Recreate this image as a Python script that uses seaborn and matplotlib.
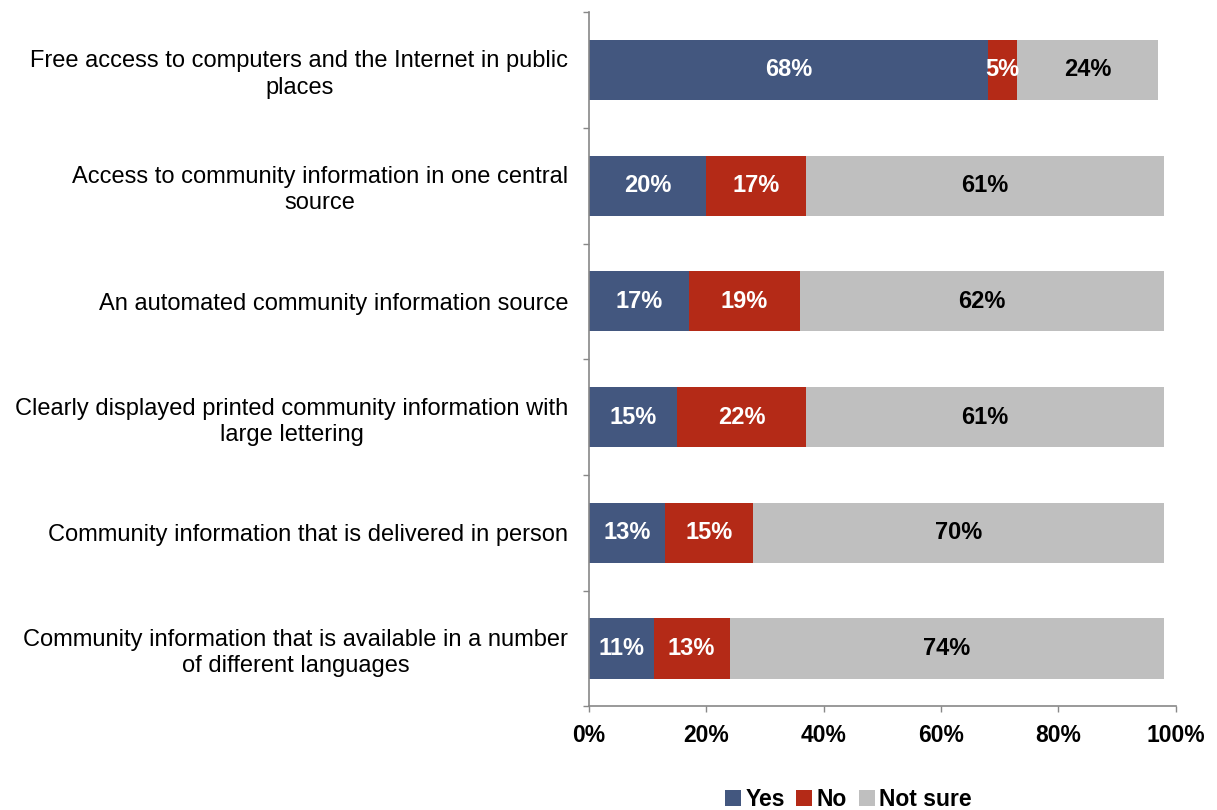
import numpy as np
import pandas as pd
import matplotlib
matplotlib.use("Agg")
import matplotlib.pyplot as plt
from matplotlib.patches import Patch
import seaborn as sns

# Survey items and response shares (percent)
categories = [
    "Free access to computers and the Internet in public\nplaces",
    "Access to community information in one central\nsource",
    "An automated community information source",
    "Clearly displayed printed community information with\nlarge lettering",
    "Community information that is delivered in person",
    "Community information that is available in a number\nof different languages",
]
yes_vals = [68, 20, 17, 15, 13, 11]
no_vals = [5, 17, 19, 22, 15, 13]
notsure_vals = [24, 61, 62, 61, 70, 74]
series_names = ["Yes", "No", "Not sure"]
x_ticks = [0, 20, 40, 60, 80, 100]

colors = {"Yes": "#43577f", "No": "#b42a17", "Not sure": "#bfbfbf"}
text_colors = {"Yes": "white", "No": "white", "Not sure": "black"}

sns.set_theme(style="white")
plt.rcParams["font.family"] = ["Liberation Sans", "DejaVu Sans"]
plt.rcParams["text.color"] = "black"
plt.rcParams["xtick.color"] = "black"
plt.rcParams["ytick.color"] = "black"

df = pd.DataFrame({"category": categories, "Yes": yes_vals, "No": no_vals, "Not sure": notsure_vals})
df["c_yes"] = df["Yes"]
df["c_no"] = df["Yes"] + df["No"]
df["c_ns"] = df["Yes"] + df["No"] + df["Not sure"]

fig = plt.figure(figsize=(12.17, 8.10), dpi=100)
ax = fig.add_axes([0.484, 0.128, 0.482, 0.857])

# Stacked bars: draw cumulative totals from widest to narrowest
bar_w = 0.52
for col, name in [("c_ns", "Not sure"), ("c_no", "No"), ("c_yes", "Yes")]:
    sns.barplot(data=df, x=col, y="category", orient="h", color=colors[name],
                width=bar_w, saturation=1, edgecolor="none", linewidth=0, ax=ax)

# Segment value labels
for i, row in df.iterrows():
    start = 0
    for name in series_names:
        v = row[name]
        ax.text(start + v / 2, i, f"{v}%", ha="center", va="center",
                color=text_colors[name], fontsize=17, fontweight="bold")
        start += v

ax.set_xlim(0, 100)
ax.set_ylim(len(categories) - 0.5, -0.5)
ax.set_xticks(x_ticks)
ax.set_xticklabels([f"{t}%" for t in x_ticks], fontsize=16.5, fontweight="bold")
ax.set_xlabel("")
ax.set_ylabel("")

ax.set_yticks(range(len(categories)))
ax.set_yticklabels(categories, fontsize=17, ha="right", multialignment="center",
                   linespacing=1.25)
ax.set_yticks(np.arange(-0.5, len(categories), 1.0), minor=True)
ax.tick_params(axis="y", which="major", length=0, pad=15)
ax.tick_params(axis="y", which="minor", length=4.5, width=1, color="#888888", direction="out", left=True)
ax.tick_params(axis="x", which="major", length=4.5, width=1, color="#888888", direction="out", bottom=True, pad=8)

for side in ["top", "right"]:
    ax.spines[side].set_visible(False)
for side in ["left", "bottom"]:
    ax.spines[side].set_color("#888888")
    ax.spines[side].set_linewidth(1.2)

handles = [Patch(facecolor=colors[n], edgecolor="none", label=n) for n in series_names]
fig.legend(handles=handles, loc="lower center", bbox_to_anchor=(0.697, -0.027), ncol=3,
           frameon=False, handlelength=0.7, handleheight=0.7, handletextpad=0.2,
           columnspacing=0.5, prop={"size": 16.5, "weight": "bold"})

fig.savefig("out.png", dpi=100)
